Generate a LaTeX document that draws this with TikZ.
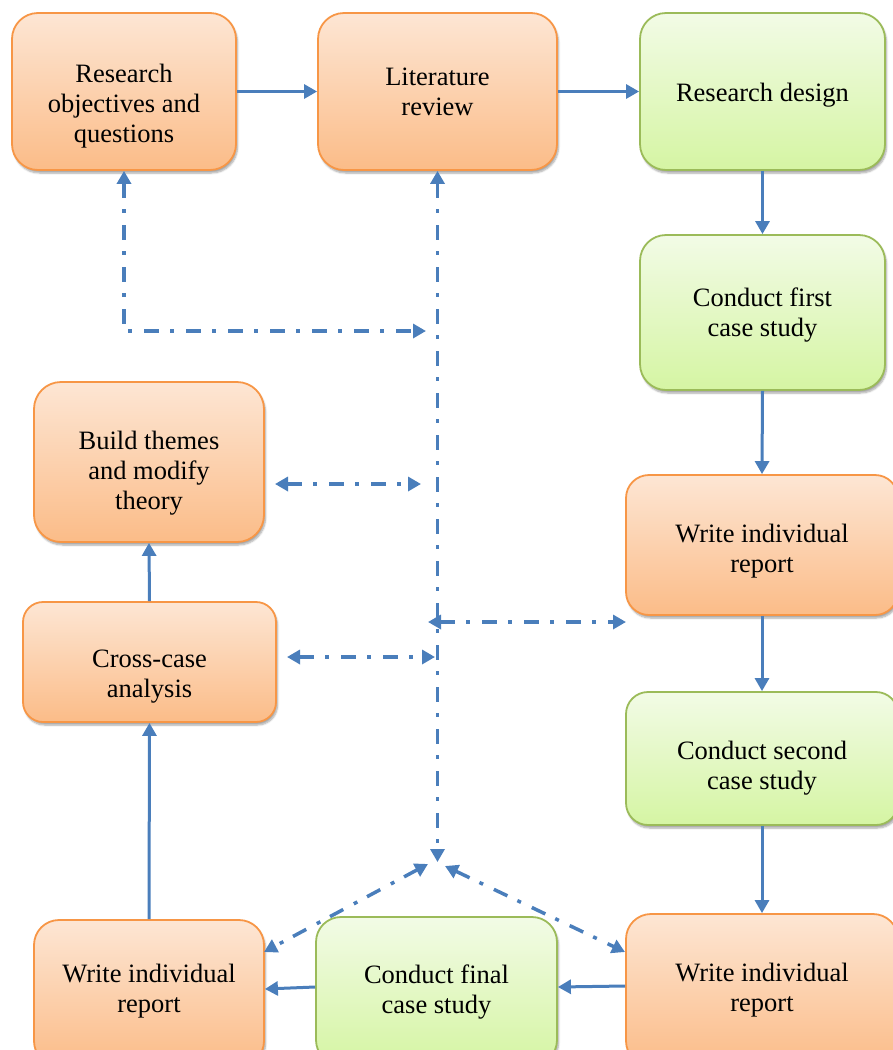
\documentclass[tikz,border=0pt]{standalone}
\usepackage{fontspec}
\setmainfont{Liberation Serif}
\usetikzlibrary{arrows.meta,shadows.blur}

\definecolor{flowblue}{HTML}{4A7EBB}
\definecolor{orangeedge}{HTML}{F79646}
\definecolor{orangetop}{HTML}{FDE6D4}
\definecolor{orangebot}{HTML}{FBBC88}
\definecolor{greenedge}{HTML}{9BBB59}
\definecolor{greentop}{HTML}{F2FBE6}
\definecolor{greenbot}{HTML}{D5F5A3}

\begin{document}
\begin{tikzpicture}[x=1pt,y=-1pt,
  box/.style={rectangle, line width=1.8pt, inner sep=0pt,
    blur shadow={shadow xshift=1.5pt, shadow yshift=-3pt,
                 shadow blur steps=6, shadow opacity=35}},
  dims/.style n args={3}{minimum width=#1pt, minimum height=#2pt, rounded corners=#3pt},
  orangebox/.style={box, draw=orangeedge, top color=orangetop, bottom color=orangebot},
  greenbox/.style={box, draw=greenedge, top color=greentop, bottom color=greenbot},
  txt/.style={align=center, inner sep=0pt, font=\fontsize{26.5}{30}\selectfont},
  tip/.tip={Triangle[length=13pt,width=14pt]},
  flow/.style={draw=flowblue, line width=3pt, -tip},
  link/.style={draw=flowblue, line width=3.5pt,
    dash pattern=on 15pt off 11pt on 4pt off 12pt, tip-tip},
]
\useasboundingbox (0,0) rectangle (892,1050);

% process boxes
\node[orangebox, dims={224}{157}{26}] (b1)  at (124,91.5)   {};
\node[orangebox, dims={239}{157}{26}] (b2)  at (437.5,91.5) {};
\node[greenbox,  dims={245}{157}{26}] (b3)  at (762.5,91.5) {};
\node[greenbox,  dims={245}{155}{26}] (b4)  at (762.5,312.5) {};
\node[orangebox, dims={272}{140}{23}] (b5)  at (762,545)    {};
\node[greenbox,  dims={272}{133}{22}] (b6)  at (762,758.5)  {};
\node[orangebox, dims={272}{152}{25}] (b7)  at (762,990)    {};
\node[greenbox,  dims={241}{148}{25}] (b8)  at (436.5,991)  {};
\node[orangebox, dims={230}{146}{25}] (b9)  at (149,993)    {};
\node[orangebox, dims={253}{120}{20}] (b10) at (149.5,662)  {};
\node[orangebox, dims={230}{160}{27}] (b11) at (149,462)    {};

% box labels
\node[txt] (t1)  at (124,106)   {Research\\objectives and\\questions};
\node[txt] (t2)  at (437.5,92)  {Literature\\review};
\node[txt] (t3)  at (762.5,95)  {Research design};
\node[txt] (t4)  at (762.5,315) {Conduct first\\case study};
\node[txt] (t5)  at (762,551)   {Write individual\\report};
\node[txt] (t6)  at (762,768)   {Conduct second\\case study};
\node[txt] (t7)  at (762,990)   {Write individual\\report};
\node[txt] (t8)  at (436.5,992) {Conduct final\\case study};
\node[txt] (t9)  at (149,991)   {Write individual\\report};
\node[txt] (t10) at (149.5,677) {Cross-case\\analysis};
\node[txt] (t11) at (149,473.5) {Build themes\\and modify\\theory};

% main flow
\draw[flow] (b1.east) -- (b2.west);
\draw[flow] (b2.east) -- (b3.west);
\draw[flow] (b3.south) -- (b4.north);
\draw[flow] (b4.south) -- (b5.north);
\draw[flow] (b5.south) -- (b6.north);
\draw[flow] (b6.south) -- (b7.north);
\draw[flow] ([yshift=4pt]b7.west) -- ([yshift=4pt]b8.east);
\draw[flow] ([yshift=4pt]b8.west) -- ([yshift=4pt]b9.east);
\draw[flow] (b9.north) -- (b10.south);
\draw[flow] (b10.north) -- (b11.south);

% feedback links
\coordinate (c1)  at (426,331);
\coordinate (c2)  at (437.5,862);
\coordinate (c3a) at (275,484);
\coordinate (c3b) at (421,484);
\coordinate (c4a) at (428,622);
\coordinate (c4b) at (626,622);
\coordinate (c5a) at (287,657);
\coordinate (c5b) at (435,657);
\coordinate (c6a) at (428,864);
\coordinate (c6b) at (264,952);
\coordinate (c7a) at (445,866);
\coordinate (c7b) at (625,952);

\draw[link] (b1.south) |- (c1);
\draw[link] (b2.south) -- (c2);
\draw[link] (c3a) -- (c3b);
\draw[link] (c4a) -- (c4b);
\draw[link] (c5a) -- (c5b);
\draw[link] (c6a) -- (c6b);
\draw[link] (c7a) -- (c7b);
\end{tikzpicture}
\end{document}
